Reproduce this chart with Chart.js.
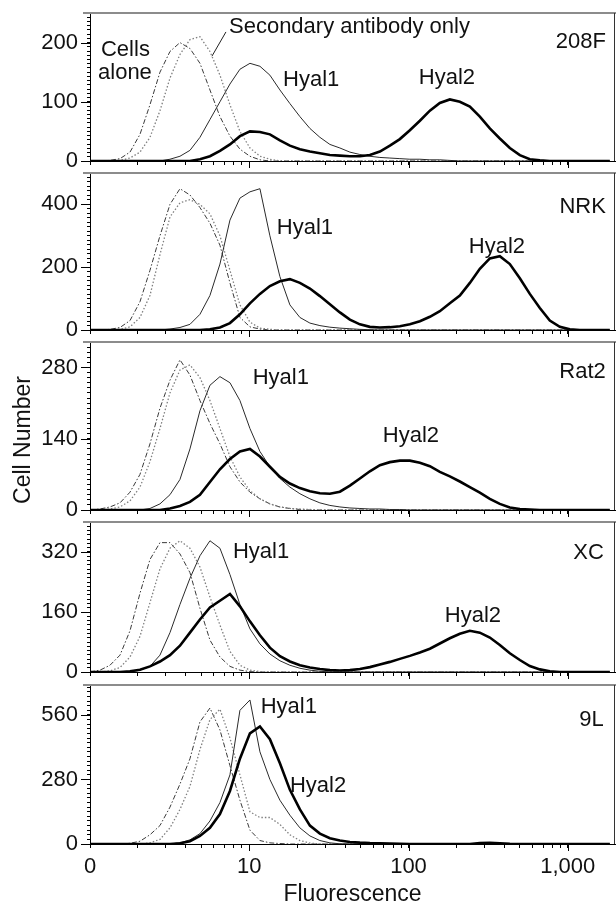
<!DOCTYPE html>
<html>
<head>
<meta charset="utf-8">
<script src="https://cdn.jsdelivr.net/npm/chart.js@4.4.1/dist/chart.umd.min.js"></script>
<style>
html,body{margin:0;padding:0;background:#fff;}
#wrap{position:relative;width:616px;height:905px;overflow:hidden;font-family:"Liberation Sans",Arial,sans-serif;color:#111;background:#fff;}
#wrap canvas{position:absolute;left:0;}
.ytitle{position:absolute;left:-78px;top:427px;width:200px;height:26px;line-height:26px;text-align:center;font-size:23px;transform:rotate(-90deg);}
.xtitle{position:absolute;left:90px;width:525px;top:880px;height:26px;line-height:26px;text-align:center;font-size:23px;}
</style>
</head>
<body>
<div id="wrap">
<canvas id="c0"></canvas>
<canvas id="c1"></canvas>
<canvas id="c2"></canvas>
<canvas id="c3"></canvas>
<canvas id="c4"></canvas>
<div class="ytitle">Cell Number</div>
<div class="xtitle">Fluorescence</div>
</div>
<script>
// ---------- data ----------
const X_VALUES = [1,1.156,1.335,1.543,1.783,2.06,2.38,2.75,3.178,3.672,
  4.243,4.903,5.665,6.546,7.564,8.74,10.1,11.67,13.48,15.58,
  18.0,20.8,24.04,27.77,32.09,37.08,42.85,49.51,57.21,66.11,
  76.39,88.26,102.0,117.9,136.2,157.3,181.8,210.1,242.8,280.5,
  324.1,374.5,432.8,500.1,577.8,667.7,771.5,891.5,1030,1190,
  1376,1590,1837];

const X_TICKS = [1,2,3,4,5,6,7,8,9,10,20,30,40,50,60,70,80,90,100,200,300,400,500,600,700,800,900,1000];
const X_MAJOR = [10,100,1000];
const X_TICK_LABELS = {1:'0',10:'10',100:'100',1000:'1,000'};

const PANEL_NAMES = ['208F','NRK','Rat2','XC','9L'];
const Y_MAX = [250,500,330,400,690];
const Y_MAJOR = [100,200,140,160,280];

// 208F
const CELLS_208F = [0,0,1,4,15,45,95,150,185,200, 190,165,120,75,42,20,8,2,0,0, 0,0,0,0,0,0,0,0,0,0, 0,0,0,0,0,0,0,0,0,0, 0,0,0,0,0,0,0,0,0,0, 0,0,0];
const SEC_208F   = [0,0,0,1,5,15,40,85,140,180, 205,210,185,145,95,50,22,8,3,0, 0,0,0,0,0,0,0,0,0,0, 0,0,0,0,0,0,0,0,0,0, 0,0,0,0,0,0,0,0,0,0, 0,0,0];
const HYAL1_208F = [0,0,0,0,0,0,0,0,3,8, 18,40,70,100,130,155,165,160,145,120, 97,75,55,40,28,22,15,11,8,6, 5,4,3,3,2,2,1,0,0,0, 0,0,0,0,0,0,0,0,0,0, 0,0,0];
const HYAL2_208F = [0,0,0,0,0,0,0,0,0,0, 0,3,8,17,28,42,50,49,45,35, 26,20,16,13,10,9,8,8,10,16, 26,37,52,68,85,98,104,100,92,75, 55,38,22,10,3,1,0,0,0,0, 0,0,0];
// NRK
const CELLS_NRK = [0,0,2,8,30,90,190,300,400,450, 430,390,340,270,150,40,10,3,0,0, 0,0,0,0,0,0,0,0,0,0, 0,0,0,0,0,0,0,0,0,0, 0,0,0,0,0,0,0,0,0,0, 0,0,0];
const SEC_NRK   = [0,0,0,2,10,40,110,240,360,405, 415,400,370,300,190,80,25,6,2,0, 0,0,0,0,0,0,0,0,0,0, 0,0,0,0,0,0,0,0,0,0, 0,0,0,0,0,0,0,0,0,0, 0,0,0];
const HYAL1_NRK = [0,0,0,0,0,0,0,0,3,8, 18,50,110,210,350,420,440,450,300,170, 80,40,22,14,9,6,4,2,1,0, 0,0,0,0,0,0,0,0,0,0, 0,0,0,0,0,0,0,0,0,0, 0,0,0];
const HYAL2_NRK = [0,0,0,0,0,0,0,0,0,0, 0,0,2,8,22,50,85,115,140,155, 162,150,132,108,82,56,33,18,10,8, 9,12,18,28,42,60,85,110,150,195, 228,235,210,165,115,70,30,10,2,0, 0,0,0];
// Rat2
const CELLS_RAT2 = [0,2,6,14,35,70,130,200,255,295, 265,215,170,130,85,55,35,22,12,6, 3,1,0,0,0,0,0,0,0,0, 0,0,0,0,0,0,0,0,0,0, 0,0,0,0,0,0,0,0,0,0, 0,0,0];
const SEC_RAT2   = [0,0,2,6,18,45,95,160,230,275, 285,260,215,160,105,65,38,22,12,6, 3,2,1,0,0,0,0,0,0,0, 0,0,0,0,0,0,0,0,0,0, 0,0,0,0,0,0,0,0,0,0, 0,0,0];
const HYAL1_RAT2 = [0,0,0,0,0,0,3,12,30,60, 120,195,245,262,250,215,160,115,85,62, 45,32,22,14,9,6,4,3,2,2, 1,1,0,0,0,0,0,0,0,0, 0,0,0,0,0,0,0,0,0,0, 0,0,0];
const HYAL2_RAT2 = [0,0,0,0,0,0,0,0,3,8, 16,30,55,80,100,115,120,105,85,65, 52,43,37,33,32,36,48,62,76,88, 94,97,97,93,86,75,66,56,45,34, 22,12,5,2,1,0,0,0,0,0, 0,0,0];
// XC
const CELLS_XC = [0,5,18,45,110,210,300,345,345,315, 265,170,85,40,15,5,1,0,0,0, 0,0,0,0,0,0,0,0,0,0, 0,0,0,0,0,0,0,0,0,0, 0,0,0,0,0,0,0,0,0,0, 0,0,0];
const SEC_XC   = [0,0,3,12,40,95,185,275,330,350, 330,280,200,125,55,18,5,1,0,0, 0,0,0,0,0,0,0,0,0,0, 0,0,0,0,0,0,0,0,0,0, 0,0,0,0,0,0,0,0,0,0, 0,0,0];
const HYAL1_XC = [0,0,0,0,0,5,15,45,105,180, 250,310,350,330,260,180,115,75,48,30, 18,10,5,2,0,0,0,0,0,0, 0,0,0,0,0,0,0,0,0,0, 0,0,0,0,0,0,0,0,0,0, 0,0,0];
const HYAL2_XC = [0,0,0,0,2,6,15,28,45,70, 105,140,172,190,208,175,135,98,65,42, 28,18,12,8,5,4,5,8,13,20, 27,35,43,52,62,76,90,102,110,105, 92,72,50,32,16,7,2,0,0,0, 0,0,0];
// 9L
const CELLS_9L = [0,0,0,0,3,12,40,80,160,260, 370,530,590,495,340,190,60,15,5,2, 0,0,0,0,0,0,0,0,0,0, 0,0,0,0,0,0,0,0,0,0, 0,0,0,0,0,0,0,0,0,0, 0,0,0];
const SEC_9L   = [0,0,0,0,0,0,5,20,70,150, 250,410,540,585,460,300,140,115,115,85, 40,15,4,0,0,0,0,0,0,0, 0,0,0,0,0,0,0,0,0,0, 0,0,0,0,0,0,0,0,0,0, 0,0,0];
const HYAL1_9L = [0,0,0,0,0,0,0,0,0,5, 18,45,100,180,300,580,625,400,280,190, 125,70,35,15,5,1,0,0,0,0, 0,0,0,0,0,0,0,0,0,0, 0,0,0,0,0,0,0,0,0,0, 0,0,0];
const HYAL2_9L = [0,0,0,0,0,0,0,0,0,3, 12,35,70,130,230,370,480,510,455,350, 235,150,80,45,25,15,9,6,4,3, 2,1,0,0,0,0,0,0,0,4, 5,3,1,0,0,0,0,0,0,0, 0,0,0];

const PANEL_SERIES = [
  [CELLS_208F, SEC_208F, HYAL1_208F, HYAL2_208F],
  [CELLS_NRK, SEC_NRK, HYAL1_NRK, HYAL2_NRK],
  [CELLS_RAT2, SEC_RAT2, HYAL1_RAT2, HYAL2_RAT2],
  [CELLS_XC, SEC_XC, HYAL1_XC, HYAL2_XC],
  [CELLS_9L, SEC_9L, HYAL1_9L, HYAL2_9L]
];

// annotation placements (data coordinates of each panel)
const PANEL_LABELS = [
  [{t:'Cells',x:1.172,y:188},{t:'alone',x:1.123,y:149},{t:'Secondary antibody only',x:7.46,y:226},
   {t:'Hyal1',x:16.3,y:137},{t:'Hyal2',x:116,y:140},{t:'208F',x:1734,y:201,a:'right'}],
  [{t:'Hyal1',x:14.9,y:325},{t:'Hyal2',x:239,y:265},{t:'NRK',x:1734,y:392,a:'right'}],
  [{t:'Hyal1',x:10.5,y:259},{t:'Hyal2',x:69,y:145},{t:'Rat2',x:1734,y:271,a:'right'}],
  [{t:'Hyal1',x:7.9,y:320},{t:'Hyal2',x:169,y:150},{t:'XC',x:1685,y:317,a:'right'}],
  [{t:'Hyal1',x:11.8,y:595},{t:'Hyal2',x:18.0,y:252},{t:'9L',x:1685,y:538,a:'right'}]
];
const LEADER_208F = [[7.14,218],[5.83,177]];

// ---------- layout ----------
const PANEL_TOP  = [13,173,342,522,685];
const PANEL_ZERO = [161,330,510,672,844];
const FONT = '"Liberation Sans", Arial, Helvetica, sans-serif';

const framePlugin = {
  id: 'frame',
  afterDraw(chart, args, o) {
    const ctx = chart.ctx, a = chart.chartArea, sx = chart.scales.x, sy = chart.scales.y;
    ctx.save();
    ctx.strokeStyle = '#8c8c8c'; ctx.lineWidth = 2;
    ctx.beginPath(); ctx.moveTo(a.left - 7, a.top); ctx.lineTo(a.right + 1, a.top); ctx.stroke();
    ctx.strokeStyle = '#333'; ctx.lineWidth = 1;
    ctx.beginPath(); ctx.moveTo(a.right - 0.5, a.top); ctx.lineTo(a.right - 0.5, a.bottom); ctx.stroke();
    ctx.strokeStyle = '#000';
    X_MAJOR.forEach(v => {
      const x = Math.round(sx.getPixelForValue(v)) + 0.5;
      ctx.beginPath(); ctx.moveTo(x, a.bottom); ctx.lineTo(x, a.bottom + 7); ctx.stroke();
    });
    for (let k = 0; k * o.major <= sy.max; k++) {
      const y = Math.round(sy.getPixelForValue(k * o.major)) + 0.5;
      ctx.beginPath(); ctx.moveTo(a.left - 9, y); ctx.lineTo(a.left, y); ctx.stroke();
    }
    ctx.fillStyle = '#111';
    ctx.font = '22px ' + FONT;
    ctx.textBaseline = 'middle';
    o.labels.forEach(l => {
      ctx.textAlign = l.a || 'left';
      ctx.fillText(l.t, sx.getPixelForValue(l.x), sy.getPixelForValue(l.y));
    });
    if (o.leader) {
      ctx.strokeStyle = '#222'; ctx.lineWidth = 1;
      ctx.beginPath();
      ctx.moveTo(sx.getPixelForValue(o.leader[0][0]), sy.getPixelForValue(o.leader[0][1]));
      ctx.lineTo(sx.getPixelForValue(o.leader[1][0]), sy.getPixelForValue(o.leader[1][1]));
      ctx.stroke();
    }
    ctx.restore();
  }
};

function pts(arr) { return X_VALUES.map((x, i) => ({x: x, y: arr[i]})); }

for (let p = 0; p < 5; p++) {
  const last = p === 4;
  const xh = last ? 36 : 10;
  const cv = document.getElementById('c' + p);
  const h = 4 + (PANEL_ZERO[p] - PANEL_TOP[p]) + xh;
  cv.width = 616; cv.height = h;
  cv.style.width = '616px'; cv.style.height = h + 'px';
  cv.style.top = (PANEL_TOP[p] - 4) + 'px';
  const s = PANEL_SERIES[p];
  const major = Y_MAJOR[p];
  const N = 14;
  new Chart(cv, {
    type: 'line',
    data: {
      datasets: [
        {label:'Hyal2', data: pts(s[3]), borderColor:'#000', borderWidth:2.6},
        {label:'Hyal1', data: pts(s[2]), borderColor:'#2a2a2a', borderWidth:1},
        {label:'Secondary antibody only', data: pts(s[1]), borderColor:'#808080', borderWidth:1.3, borderDash:[1.5,2]},
        {label:'Cells alone', data: pts(s[0]), borderColor:'#3a3a3a', borderWidth:1, borderDash:[5,2,1.5,2]}
      ]
    },
    options: {
      responsive: false,
      animation: false,
      devicePixelRatio: 1,
      layout: {padding: {top: 4, left: 0, right: 1, bottom: 0}},
      elements: {point: {radius: 0}, line: {tension: 0, fill: false}},
      plugins: {
        legend: {display: false},
        tooltip: {enabled: false},
        frame: {labels: PANEL_LABELS[p], leader: p === 0 ? LEADER_208F : null, major: major}
      },
      scales: {
        x: {
          type: 'logarithmic', min: 1, max: 1980,
          afterBuildTicks: sc => { sc.ticks = X_TICKS.map(v => ({value: v, major: X_MAJOR.includes(v)})); },
          afterFit: sc => { sc.height = xh; sc.paddingLeft = 0; sc.paddingRight = 0; },
          grid: {display: true, drawOnChartArea: false, drawTicks: true, tickLength: 4, color: '#000', lineWidth: 1},
          border: {display: true, color: '#000', width: 1},
          ticks: {
            display: last, autoSkip: false, maxRotation: 0, minRotation: 0, padding: 6,
            color: '#111', font: {family: FONT, size: 22},
            callback: v => (X_TICK_LABELS[v] !== undefined ? X_TICK_LABELS[v] : '')
          }
        },
        y: {
          type: 'linear', min: 0, max: Y_MAX[p],
          afterBuildTicks: sc => {
            const t = [];
            for (let i = 0; i * major / N <= Y_MAX[p] + 1e-9; i++) t.push({value: i * major / N, major: i % N === 0});
            sc.ticks = t;
          },
          afterFit: sc => { sc.width = 90; sc.paddingTop = 0; sc.paddingBottom = 0; },
          grid: {display: true, drawOnChartArea: false, drawTicks: true, tickLength: 3, color: '#000', lineWidth: 1},
          border: {display: true, color: '#000', width: 1},
          ticks: {
            autoSkip: false, padding: 9, color: '#111', font: {family: FONT, size: 22},
            callback: (v, i, ticks) => (ticks[i] && ticks[i].major ? String(Math.round(v)) : '')
          }
        }
      }
    },
    plugins: [framePlugin]
  });
}
</script>
</body>
</html>
